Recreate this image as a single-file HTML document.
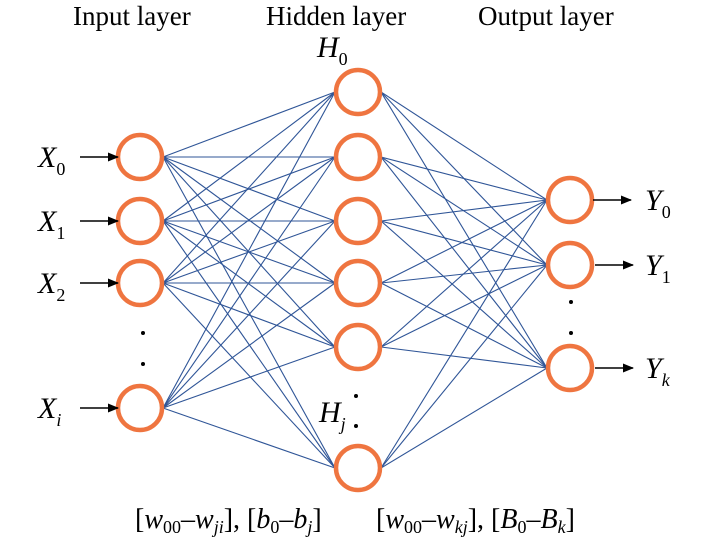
<!DOCTYPE html>
<html><head><meta charset="utf-8"><style>
body{margin:0;background:#fff;width:709px;height:542px;overflow:hidden}
svg{display:block}
text{font-family:"Liberation Serif",serif;fill:#000}
</style></head><body>
<svg width="709" height="542" viewBox="0 0 709 542" xmlns="http://www.w3.org/2000/svg">
<defs><marker id="a" markerWidth="11" markerHeight="10" refX="10" refY="5" orient="auto" markerUnits="userSpaceOnUse"><path d="M0,0.5 L11,5 L0,9.5 z" fill="#000"/></marker></defs>
<text x="73" y="25" font-size="27">Input layer</text>
<text x="266" y="25" font-size="27">Hidden layer</text>
<text x="478" y="25" font-size="27">Output layer</text>
<g stroke="#2f5597" stroke-width="1.1" fill="none" id="lines"></g>
<g id="nodes" fill="#fff" stroke="#ef7540" stroke-width="4.5"></g>
<g stroke="#000" stroke-width="1.6">
<line x1="80" y1="157" x2="118" y2="157" marker-end="url(#a)"/>
<line x1="80" y1="221" x2="118" y2="221" marker-end="url(#a)"/>
<line x1="80" y1="283" x2="118" y2="283" marker-end="url(#a)"/>
<line x1="80" y1="408" x2="118" y2="408" marker-end="url(#a)"/>
<line x1="593" y1="200" x2="631" y2="200" marker-end="url(#a)"/>
<line x1="595" y1="265" x2="633" y2="265" marker-end="url(#a)"/>
<line x1="595" y1="368" x2="633" y2="368" marker-end="url(#a)"/>
</g>
<g font-style="italic" font-size="30">
<text x="38" y="167">X<tspan font-size="18" font-style="normal" dy="8">0</tspan></text>
<text x="38" y="231">X<tspan font-size="18" font-style="normal" dy="8">1</tspan></text>
<text x="38" y="293">X<tspan font-size="18" font-style="normal" dy="8">2</tspan></text>
<text x="38" y="418">X<tspan font-size="18" dy="8">i</tspan></text>
<text x="645" y="210">Y<tspan font-size="18" font-style="normal" dy="8">0</tspan></text>
<text x="645" y="275">Y<tspan font-size="18" font-style="normal" dy="8">1</tspan></text>
<text x="645" y="378">Y<tspan font-size="18" dy="8">k</tspan></text>
<text x="317" y="57">H<tspan font-size="18" font-style="normal" dy="8">0</tspan></text>
<text x="319" y="422">H<tspan font-size="18" dy="8">j</tspan></text>
</g>
<g fill="#000">
<circle cx="143" cy="333" r="2"/><circle cx="143" cy="364" r="2"/>
<circle cx="356" cy="396" r="2"/><circle cx="356" cy="426" r="2"/>
<circle cx="571" cy="302" r="2"/><circle cx="571" cy="333" r="2"/>
</g>
<text x="135" y="528" font-size="28">[<tspan font-style="italic">w</tspan><tspan font-size="18" dy="5">00</tspan><tspan dy="-5">–</tspan><tspan font-style="italic">w</tspan><tspan font-size="18" font-style="italic" dy="5">ji</tspan><tspan dy="-5">], [</tspan><tspan font-style="italic">b</tspan><tspan font-size="18" dy="5">0</tspan><tspan dy="-5">–</tspan><tspan font-style="italic">b</tspan><tspan font-size="18" font-style="italic" dy="5">j</tspan><tspan dy="-5">]</tspan></text>
<text x="376" y="528" font-size="28">[<tspan font-style="italic">w</tspan><tspan font-size="18" dy="5">00</tspan><tspan dy="-5">–</tspan><tspan font-style="italic">w</tspan><tspan font-size="18" font-style="italic" dy="5">kj</tspan><tspan dy="-5">], [</tspan><tspan font-style="italic">B</tspan><tspan font-size="18" dy="5">0</tspan><tspan dy="-5">–</tspan><tspan font-style="italic">B</tspan><tspan font-size="18" font-style="italic" dy="5">k</tspan><tspan dy="-5">]</tspan></text>
</svg>
<script>
var ns="http://www.w3.org/2000/svg";
var I=[157,221,283,408],H=[92,157,221,283,347,468],O=[200,265,368];
var L=document.getElementById("lines"),N=document.getElementById("nodes");
function ln(a,b,c,d){var e=document.createElementNS(ns,"line");e.setAttribute("x1",a);e.setAttribute("y1",b);e.setAttribute("x2",c);e.setAttribute("y2",d);L.appendChild(e);}
I.forEach(function(i){H.forEach(function(h){ln(163,i,335,h);});});
H.forEach(function(h){O.forEach(function(o){ln(381,h,547,o);});});
function c(x,y){var e=document.createElementNS(ns,"circle");e.setAttribute("cx",x);e.setAttribute("cy",y);e.setAttribute("r",22);N.appendChild(e);}
I.forEach(function(y){c(140,y);});H.forEach(function(y){c(358,y);});O.forEach(function(y){c(570,y);});
</script>
</body></html>
